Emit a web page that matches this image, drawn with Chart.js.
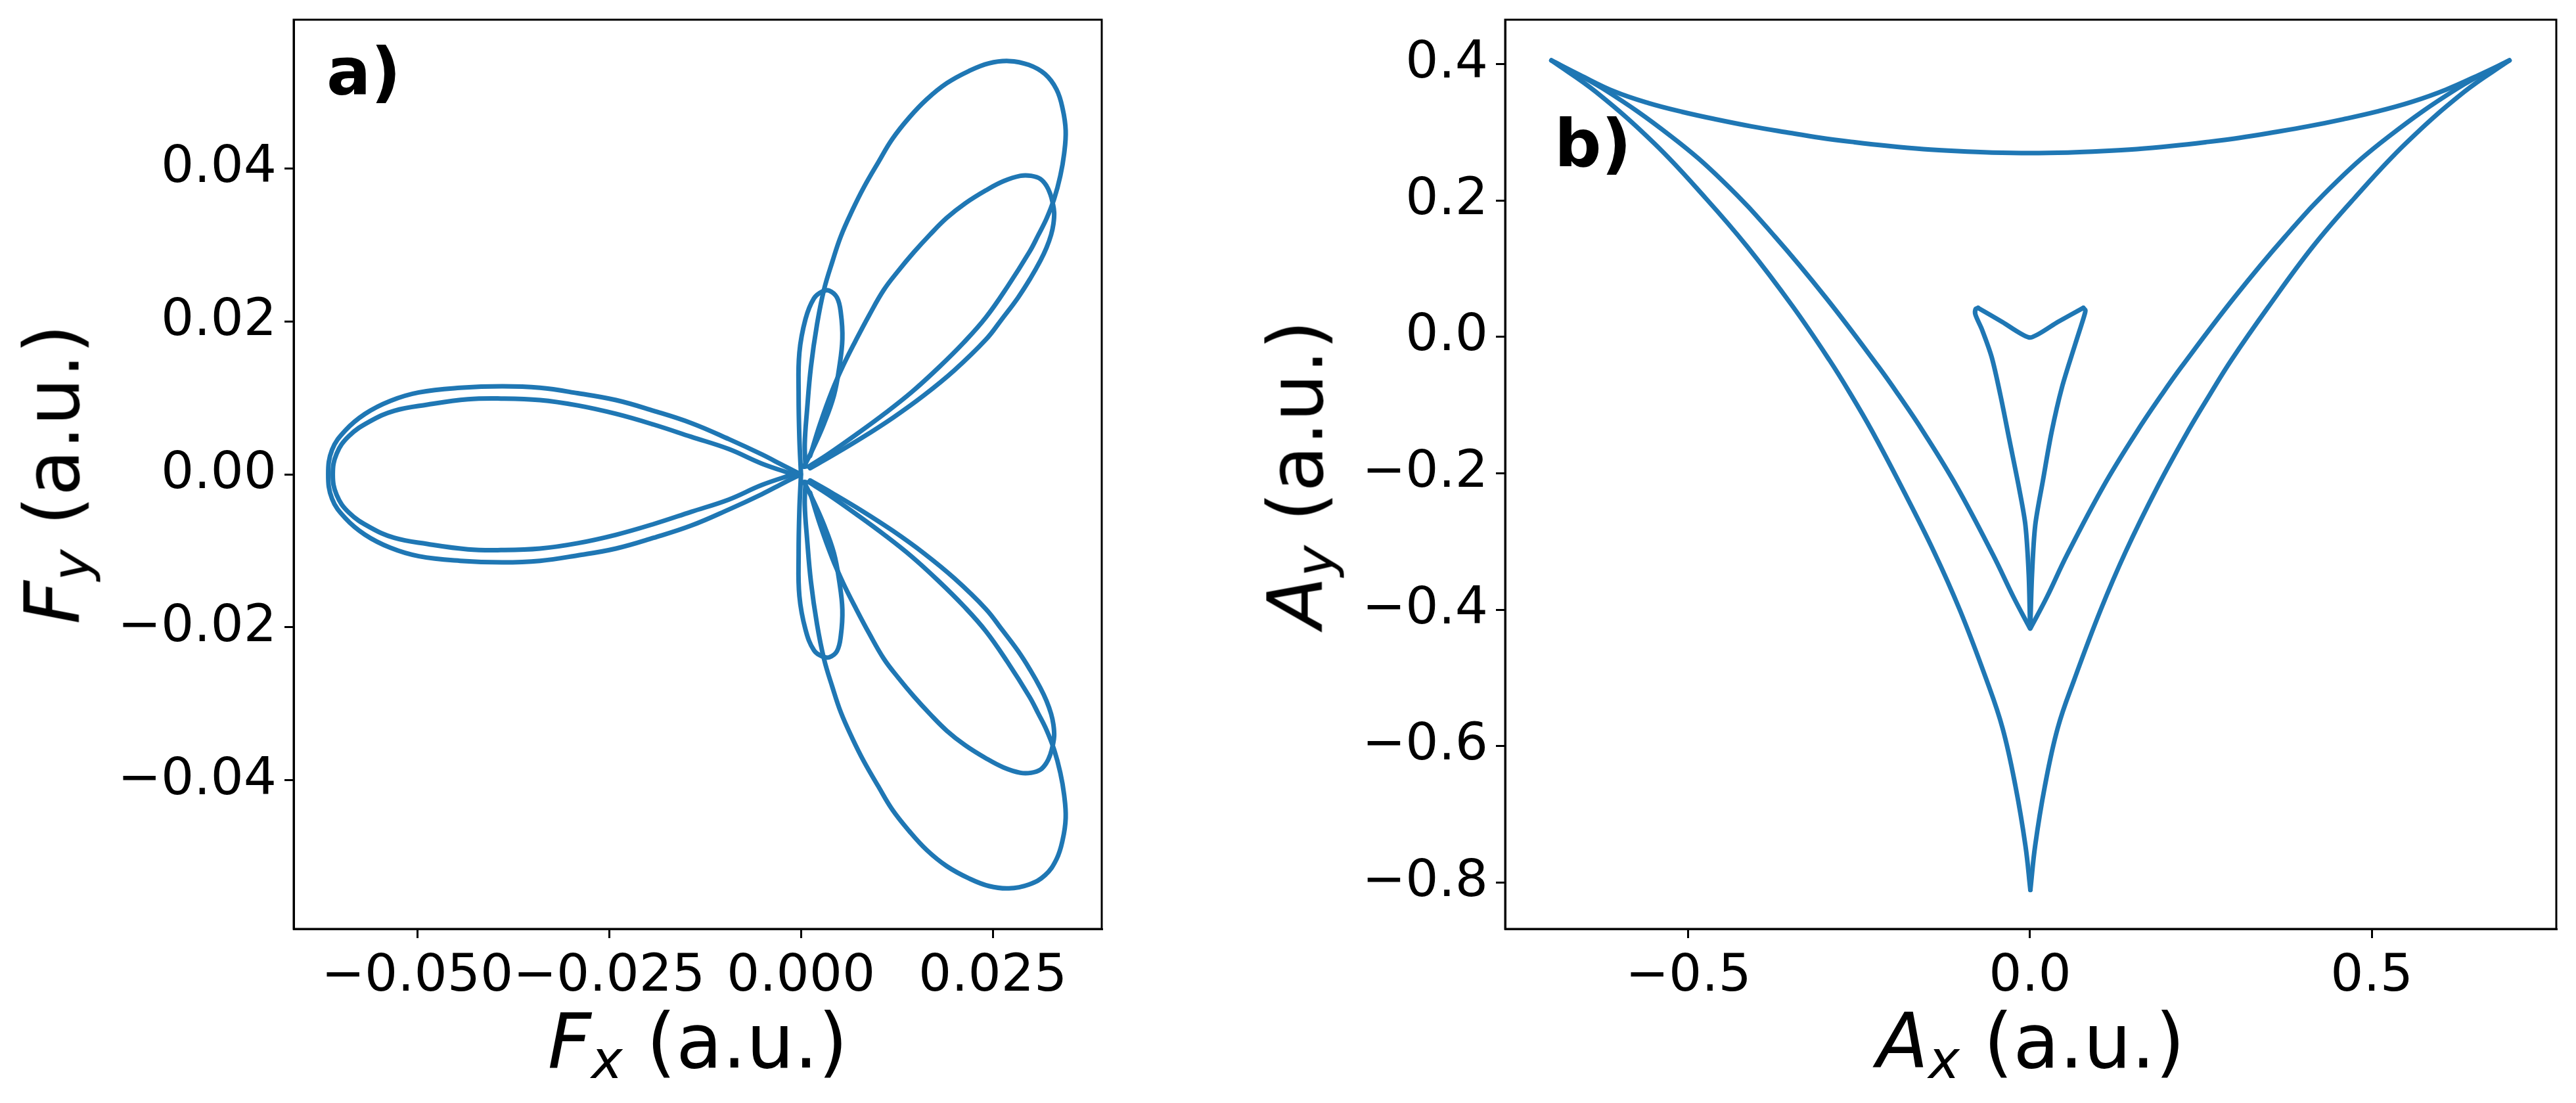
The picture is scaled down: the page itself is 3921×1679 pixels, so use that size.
<!DOCTYPE html>
<html>
<head>
<meta charset="utf-8">
<title>F and A trajectories</title>
<script src="https://cdn.jsdelivr.net/npm/chart.js@4.4.1/dist/chart.umd.min.js"></script>
<style>
  html, body { margin: 0; padding: 0; background: #fff; }
  #wrap { position: relative; width: 3921px; height: 1679px; overflow: hidden;
          font-family: "DejaVu Sans", sans-serif; color: #000; }
  canvas { position: absolute; top: 0; }
  .lbl { position: absolute; white-space: nowrap; line-height: 1; }
  .ax { font-size: 115px; }
  .ax i { font-style: italic; }
  .ax sub { font-size: 0.7em; vertical-align: -0.2em; line-height: 0; font-style: italic; }
  .tag { font-size: 100px; font-weight: bold; }
</style>
</head>
<body>
<div id="wrap">
  <canvas id="chartA" width="1960" height="1679" style="left:0"></canvas>
  <canvas id="chartB" width="1961" height="1679" style="left:1960px"></canvas>

  <div class="lbl tag" style="left:497px;top:60px">a)</div>
  <div class="lbl tag" style="left:2366px;top:169px">b)</div>

  <div class="lbl ax" style="left:1062px;top:1528px;transform:translateX(-50%)"><i>F</i><sub>x</sub> (a.u.)</div>
  <div class="lbl ax" style="left:80px;top:722px;transform:translate(-50%,-50%) rotate(-90deg)"><i>F</i><sub>y</sub> (a.u.)</div>
  <div class="lbl ax" style="left:3091px;top:1528px;transform:translateX(-50%)"><i>A</i><sub>x</sub> (a.u.)</div>
  <div class="lbl ax" style="left:1973px;top:722px;transform:translate(-50%,-50%) rotate(-90deg)"><i>A</i><sub>y</sub> (a.u.)</div>
</div>

<script>
// ---- panel a: field F ----
const fxTicks  = [-0.05, -0.025, 0, 0.025];
const fxLabels = ['\u22120.050', '\u22120.025', '0.000', '0.025'];
const fyTicks  = [-0.04, -0.02, 0, 0.02, 0.04];
const fyLabels = ['\u22120.04', '\u22120.02', '0.00', '0.02', '0.04'];

// upper-right lobe, outer loop
const upOuter = [[0.0006,0.0010],[0.0005,0.0040],[0.0008,0.0084],[0.0013,0.0140],[0.0021,0.0196],
  [0.0030,0.0241],[0.0041,0.0278],[0.0052,0.0311],[0.0067,0.0345],[0.0082,0.0375],[0.0101,0.0408],
  [0.0119,0.0438],[0.0141,0.0466],[0.0164,0.0490],[0.0190,0.0511],[0.0219,0.0527],[0.0245,0.0537],
  [0.0271,0.0540],[0.0297,0.0535],[0.0318,0.0523],[0.0333,0.0503],[0.0341,0.0478],[0.0345,0.0449],
  [0.0343,0.0419],[0.0338,0.0390],[0.0330,0.0360],[0.0320,0.0334],
  [0.0309,0.0312],[0.0298,0.0291],[0.0269,0.0245],[0.0241,0.0205],[0.0212,0.0172],[0.0180,0.0140],
  [0.0145,0.0108],[0.0110,0.0080],[0.0072,0.0052],[0.0035,0.0026],[0.0010,0.0010]];
// upper-right lobe, inner loop
const upInner = [[0.0012,0.0024],[0.0025,0.0066],[0.0041,0.0110],[0.0055,0.0142],[0.0071,0.0174],
  [0.0089,0.0208],[0.0108,0.0241],[0.0127,0.0266],[0.0147,0.0290],[0.0168,0.0313],[0.0190,0.0335],
  [0.0214,0.0354],[0.0241,0.0371],[0.0264,0.0383],[0.0286,0.0390],[0.0300,0.0390],[0.0312,0.0386],
  [0.0320,0.0377],[0.0325,0.0366],[0.0328,0.0355],[0.0330,0.0342],[0.0329,0.0327],[0.0326,0.0313],
  [0.0320,0.0296],[0.0312,0.0279],[0.0299,0.0256],[0.0283,0.0231],[0.0262,0.0203],[0.0241,0.0176],
  [0.0200,0.0136],[0.0160,0.0103],[0.0120,0.0074],[0.0080,0.0048],[0.0040,0.0024],[0.0012,0.0008]];
// small narrow loop above the origin
const upSmall = [[0.0000,0.0002],[-0.0002,0.0047],[-0.0003,0.0103],[-0.0002,0.0159],[0.0006,0.0203],
  [0.0017,0.0230],[0.0028,0.0239],[0.0037,0.0240],[0.0047,0.0231],[0.0052,0.0211],[0.0054,0.0177],
  [0.0050,0.0140],[0.0043,0.0103],[0.0030,0.0066],[0.0015,0.0032],[0.0004,0.0010]];
// lower-right lobe
const lowOuter = [[0.0006,-0.0010],[0.0005,-0.0040],[0.0008,-0.0084],[0.0013,-0.0140],[0.0021,-0.0196],
  [0.0030,-0.0241],[0.0041,-0.0278],[0.0052,-0.0311],[0.0067,-0.0345],[0.0082,-0.0375],[0.0101,-0.0408],
  [0.0119,-0.0438],[0.0141,-0.0466],[0.0164,-0.0491],[0.0190,-0.0512],[0.0219,-0.0528],[0.0245,-0.0538],
  [0.0271,-0.0541],[0.0297,-0.0536],[0.0318,-0.0524],[0.0333,-0.0503],[0.0341,-0.0478],[0.0345,-0.0449],
  [0.0343,-0.0419],[0.0338,-0.0390],[0.0330,-0.0360],[0.0320,-0.0334],
  [0.0309,-0.0312],[0.0298,-0.0291],[0.0269,-0.0245],[0.0241,-0.0205],[0.0212,-0.0172],[0.0180,-0.0140],
  [0.0145,-0.0108],[0.0110,-0.0080],[0.0072,-0.0052],[0.0035,-0.0026],[0.0010,-0.0010]];
const lowInner = [[0.0012,-0.0024],[0.0025,-0.0066],[0.0041,-0.0110],[0.0055,-0.0142],[0.0071,-0.0174],
  [0.0089,-0.0208],[0.0108,-0.0241],[0.0127,-0.0266],[0.0147,-0.0290],[0.0168,-0.0313],[0.0190,-0.0335],
  [0.0214,-0.0354],[0.0241,-0.0371],[0.0264,-0.0383],[0.0286,-0.0390],[0.0300,-0.0390],[0.0312,-0.0386],
  [0.0320,-0.0377],[0.0325,-0.0366],[0.0328,-0.0355],[0.0330,-0.0342],[0.0329,-0.0327],[0.0326,-0.0313],
  [0.0320,-0.0296],[0.0312,-0.0279],[0.0299,-0.0256],[0.0283,-0.0231],[0.0262,-0.0203],[0.0241,-0.0176],
  [0.0200,-0.0136],[0.0160,-0.0103],[0.0120,-0.0074],[0.0080,-0.0048],[0.0040,-0.0024],[0.0012,-0.0008]];
const lowSmall = [[0.0000,-0.0002],[-0.0002,-0.0047],[-0.0003,-0.0103],[-0.0002,-0.0159],[0.0006,-0.0203],
  [0.0017,-0.0230],[0.0028,-0.0238],[0.0037,-0.0239],[0.0047,-0.0231],[0.0052,-0.0211],[0.0054,-0.0177],
  [0.0050,-0.0140],[0.0043,-0.0103],[0.0030,-0.0066],[0.0015,-0.0032],[0.0004,-0.0010]];
// left lobe, two loops
const leftOuter = [[0.0000,0.0000],[-0.0022,0.0011],[-0.0051,0.0026],[-0.0094,0.0046],[-0.0143,0.0067],
  [-0.0192,0.0083],[-0.0241,0.0097],[-0.0291,0.0106],[-0.0340,0.0113],[-0.0389,0.0115],[-0.0444,0.0113],
  [-0.0498,0.0107],[-0.0535,0.0096],[-0.0568,0.0079],[-0.0594,0.0057],[-0.0611,0.0032],[-0.0616,0.0000],
  [-0.0611,-0.0032],[-0.0594,-0.0057],[-0.0568,-0.0079],[-0.0535,-0.0096],[-0.0498,-0.0107],
  [-0.0444,-0.0113],[-0.0389,-0.0115],[-0.0340,-0.0113],[-0.0291,-0.0106],[-0.0241,-0.0097],
  [-0.0192,-0.0083],[-0.0143,-0.0067],[-0.0094,-0.0046],[-0.0051,-0.0026],[-0.0022,-0.0011],[0.0000,0.0000]];
const leftInner = [[-0.0010,0.0000],[-0.0051,0.0014],[-0.0094,0.0033],[-0.0143,0.0049],[-0.0192,0.0065],
  [-0.0241,0.0079],[-0.0291,0.0090],[-0.0340,0.0097],[-0.0391,0.0099],[-0.0434,0.0098],[-0.0487,0.0091],
  [-0.0530,0.0083],[-0.0562,0.0069],[-0.0589,0.0050],[-0.0605,0.0027],[-0.0610,0.0000],
  [-0.0605,-0.0027],[-0.0589,-0.0050],[-0.0562,-0.0069],[-0.0530,-0.0083],[-0.0487,-0.0091],
  [-0.0434,-0.0098],[-0.0391,-0.0099],[-0.0340,-0.0097],[-0.0291,-0.0090],[-0.0241,-0.0079],
  [-0.0192,-0.0065],[-0.0143,-0.0049],[-0.0094,-0.0033],[-0.0051,-0.0014],[-0.0010,0.0000]];

// ---- panel b: vector potential A ----
const axTicks  = [-0.5, 0, 0.5];
const axLabels = ['\u22120.5', '0.0', '0.5'];
const ayTicks  = [-0.8, -0.6, -0.4, -0.2, 0, 0.2, 0.4];
const ayLabels = ['\u22120.8', '\u22120.6', '\u22120.4', '\u22120.2', '0.0', '0.2', '0.4'];

const topArc = [[-0.7003,0.4053],[-0.6590,0.3842],[-0.6087,0.3600],[-0.5584,0.3428],[-0.5082,0.3297],
  [-0.4579,0.3186],[-0.4076,0.3086],[-0.3573,0.3000],[-0.3070,0.2919],[-0.2567,0.2854],[-0.2064,0.2798],
  [-0.1561,0.2753],[-0.1058,0.2723],[-0.0555,0.2703],[0.0000,0.2695],[0.0555,0.2703],[0.1058,0.2723],
  [0.1561,0.2753],[0.2064,0.2798],[0.2567,0.2854],[0.3070,0.2919],[0.3573,0.3000],[0.4076,0.3088],
  [0.4579,0.3190],[0.5082,0.3305],[0.5584,0.3445],[0.6087,0.3625],[0.6590,0.3850],[0.7014,0.4053]];
const sideOuterL = [[-0.7003,0.4053],[-0.6350,0.3590],[-0.5495,0.2834],[-0.4741,0.2028],[-0.4137,0.1322],
  [-0.3475,0.0450],[-0.2935,-0.0341],[-0.2620,-0.0848],[-0.2315,-0.1375],[-0.1885,-0.2190],
  [-0.1406,-0.3148],[-0.1024,-0.4011],[-0.0641,-0.5017],[-0.0402,-0.5736],[-0.0211,-0.6598],
  [-0.0067,-0.7461],[0.0005,-0.8108]];
const sideOuterR = [[0.0005,-0.8108],[0.0075,-0.7461],[0.0215,-0.6598],[0.0405,-0.5736],[0.0650,-0.5017],
  [0.1030,-0.4011],[0.1400,-0.3148],[0.1870,-0.2190],[0.2315,-0.1375],[0.2630,-0.0848],[0.2945,-0.0341],
  [0.3480,0.0430],[0.4137,0.1322],[0.4741,0.2028],[0.5495,0.2834],[0.6350,0.3590],[0.7014,0.4053]];
const sideInnerL = [[-0.7003,0.4053],[-0.6249,0.3640],[-0.5243,0.2934],[-0.4489,0.2279],[-0.3735,0.1473],
  [-0.2980,0.0566],[-0.2214,-0.0442],[-0.1926,-0.0848],[-0.1557,-0.1399],[-0.1074,-0.2190],
  [-0.0541,-0.3196],[-0.0240,-0.3819],[0.0000,-0.4274]];
const sideInnerR = [[0.0005,-0.4274],[0.0245,-0.3819],[0.0541,-0.3196],[0.1074,-0.2190],[0.1557,-0.1399],
  [0.1926,-0.0848],[0.2214,-0.0442],[0.2980,0.0566],[0.3735,0.1473],[0.4489,0.2279],[0.5243,0.2934],
  [0.6249,0.3640],[0.7014,0.4053]];
// small inner arrowhead
const arrowL = [[0.0000,-0.4200],[-0.0019,-0.3484],[-0.0067,-0.2765],[-0.0153,-0.2256],[-0.0304,-0.1500],
  [-0.0430,-0.0870],[-0.0560,-0.0300],[-0.0700,0.0100],[-0.0800,0.0330],[-0.0795,0.0410],[-0.0760,0.0425]];
const notch = [[-0.0760,0.0425],[-0.0400,0.0215],[0.0000,-0.0010],[0.0400,0.0215],[0.0780,0.0425]];
const arrowR = [[0.0780,0.0425],[0.0810,0.0390],[0.0790,0.0300],[0.0667,-0.0089],[0.0466,-0.0744],
  [0.0315,-0.1399],[0.0189,-0.2104],[0.0076,-0.2765],[0.0029,-0.3484],[0.0005,-0.4200]];

const BLUE = '#1f77b4';
const FONT = 'DejaVu Sans';

function curve(pts, tension) {
  return {
    data: pts.map(([x, y]) => ({ x, y })),
    showLine: true,
    borderColor: BLUE,
    borderWidth: 7,
    pointRadius: 0,
    tension: tension,
    borderJoinStyle: 'round',
    borderCapStyle: 'round',
    fill: false,
  };
}

// matplotlib-style closed frame around the plot area
const framePlugin = {
  id: 'frame',
  afterDraw(chart) {
    const { ctx, chartArea: a } = chart;
    ctx.save();
    ctx.strokeStyle = '#000';
    ctx.lineWidth = 3;
    ctx.strokeRect(a.left, a.top, a.right - a.left, a.bottom - a.top);
    ctx.restore();
  },
};

function axis(min, max, ticks, labels, fitFn) {
  return {
    type: 'linear',
    min, max,
    afterBuildTicks: s => { s.ticks = ticks.map(v => ({ value: v })); },
    afterFit: s => {
      fitFn(s);
      // no extra room for overhanging labels, the frame is placed by hand
      s.paddingTop = 0; s.paddingBottom = 0; s.paddingLeft = 0; s.paddingRight = 0;
    },
    ticks: {
      autoSkip: false, maxRotation: 0, padding: 12,
      color: '#000',
      font: { family: FONT, size: 79 },
      callback: v => labels[ticks.indexOf(v)],
    },
    grid: { drawOnChartArea: false, drawTicks: true, tickLength: 14, color: '#000', lineWidth: 3 },
    border: { display: true, color: '#000', width: 3 },
  };
}

function makePanel(id, datasets, xs, ys, padRight) {
  return new Chart(document.getElementById(id), {
    type: 'scatter',
    data: { datasets },
    options: {
      responsive: false,
      animation: false,
      devicePixelRatio: 1,
      events: [],
      layout: { padding: { top: 30, right: padRight, left: 0, bottom: 0 } },
      plugins: { legend: { display: false }, tooltip: { enabled: false } },
      scales: { x: xs, y: ys },
    },
    plugins: [framePlugin],
  });
}

makePanel('chartA',
  [upOuter, upInner, upSmall, lowOuter, lowInner, lowSmall, leftOuter, leftInner].map(p => curve(p, 0.4)),
  axis(-0.0661, 0.0392, fxTicks, fxLabels, s => { s.height = 265; }),
  axis(-0.0594, 0.0594, fyTicks, fyLabels, s => { s.width = 447; }),
  283);

makePanel('chartB',
  [curve(topArc, 0.4), curve(sideOuterL, 0.4), curve(sideOuterR, 0.4), curve(sideInnerL, 0.4),
   curve(sideInnerR, 0.4), curve(arrowL, 0.3), curve(notch, 0.2), curve(arrowR, 0.3)],
  axis(-0.768, 0.770, axTicks, axLabels, s => { s.height = 265; }),
  axis(-0.868, 0.465, ayTicks, ayLabels, s => { s.width = 331; }),
  30);
</script>
</body>
</html>
